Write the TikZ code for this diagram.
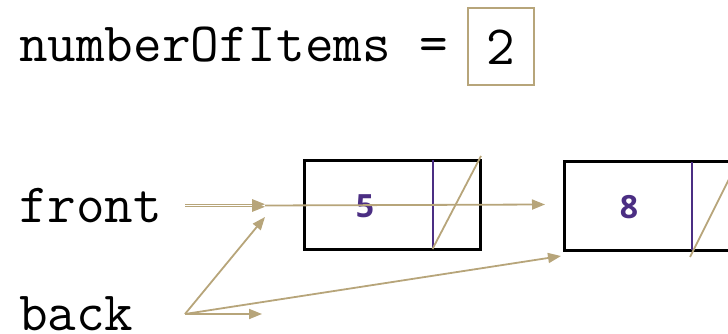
\documentclass[tikz,border=0pt]{standalone}
\usepackage{fontspec}
\newfontfamily\numfont{Open Sans}
\usetikzlibrary{arrows.meta}
\definecolor{uwgold}{HTML}{B7A57A}
\definecolor{uwpurple}{HTML}{4B2E83}
\begin{document}
\begin{tikzpicture}[x=1pt,y=-1pt,
  codetext/.style={inner sep=0pt,anchor=base west,font=\ttfamily\fontsize{55.5}{58}\selectfont},
  listbox/.style={draw=black,line width=3pt,minimum width=176pt,minimum height=89pt,inner sep=0pt},
  countbox/.style={draw=uwgold,line width=2pt,minimum width=66pt,minimum height=77pt,inner sep=0pt,font=\ttfamily\fontsize{55.5}{58}\selectfont},
  val/.style={text=uwpurple,font=\numfont\bfseries\fontsize{32}{34}\selectfont,inner sep=0pt},
  ptr/.style={draw=uwgold,line width=1.8pt,-{Triangle[length=13pt,width=10pt]}},
  divider/.style={draw=uwpurple,line width=2pt},
  nullslash/.style={draw=uwgold,line width=1.8pt}]
\useasboundingbox (0,0) rectangle (728,334);
% texts
\node[codetext] (title) at (19,62) {numberOfItems =};
\node[countbox] (count) at (500.5,47) {2};
\node[codetext] (front) at (19,222) {front};
\node[codetext] (back) at (19,330) {back};
% list nodes
\node[listbox] (n5) at (392,204.5) {};
\node[listbox] (n8) at (652,206) {};
\node[val] (v5) at (365,206) {5};
\node[val] (v8) at (629,207) {8};
% dividers and null slashes
\coordinate (d5t) at (432.5,160);
\coordinate (d5b) at (432.5,248.5);
\coordinate (d8t) at (692,162);
\coordinate (d8b) at (692,250);
\draw[divider] (d5t) -- (d5b);
\draw[divider] (d8t) -- (d8b);
\coordinate (s5a) at (432.5,249);
\coordinate (s5b) at (481,156);
\coordinate (s8a) at (690,257);
\coordinate (s8b) at (740,157);
\draw[nullslash] (s5a) -- (s5b);
\draw[nullslash] (s8a) -- (s8b);
% pointers
\coordinate (fs) at (185,205.5);
\coordinate (ft) at (265,205.5);
\draw[ptr,line width=1.3pt] ([yshift=-1.3pt]fs) -- ([yshift=-1.3pt]ft);
\draw[ptr,line width=1.3pt] ([yshift=1.3pt]fs) -- ([yshift=1.3pt]ft);
\coordinate (nt) at (545,204.5);
\draw[ptr] (ft) -- (nt);
\coordinate (bs) at (185,314);
\coordinate (bt1) at (262,314);
\coordinate (bt2) at (265,217);
\coordinate (bt3) at (561,256);
\draw[ptr] (bs) -- (bt1);
\draw[ptr] (bs) -- (bt2);
\draw[ptr] (bs) -- (bt3);
\end{tikzpicture}
\end{document}
